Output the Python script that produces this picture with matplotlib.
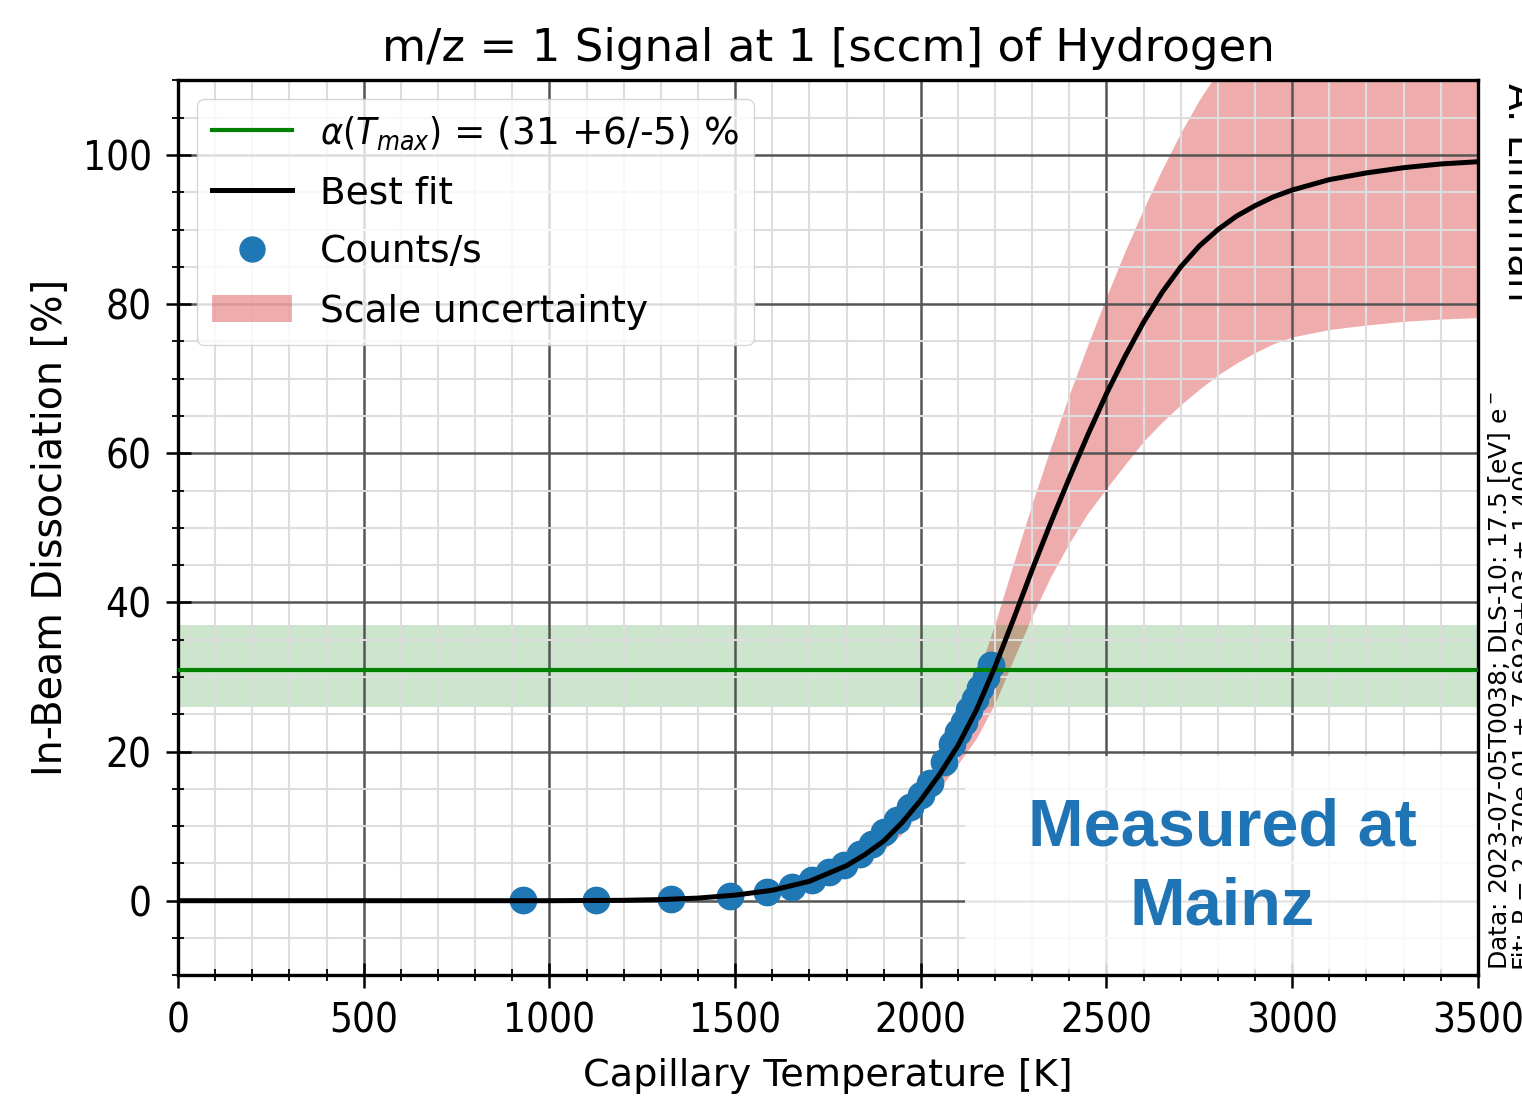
#!/usr/bin/env python3
"""
H2 in-beam dissociation vs capillary temperature (m/z = 1 signal).
"""

import matplotlib
matplotlib.use("Agg")
import matplotlib.pyplot as plt
from matplotlib.lines import Line2D
from matplotlib.patches import Patch, Rectangle
from matplotlib.ticker import MultipleLocator

# ── Data ──────────────────────────────────────────────────────────────────────

# best fit + scale-uncertainty band, sampled along temperature [K]
fit_T = [0, 500, 1000, 1200, 1300, 1400, 1500, 1600, 1700, 1800,
         1850, 1900, 1950, 2000,
         2050, 2100, 2150, 2200, 2250, 2300, 2350, 2400, 2450, 2500,
         2550, 2600, 2650, 2700, 2750, 2800, 2850, 2900, 2950, 3000,
         3100, 3200, 3300, 3400, 3500]
fit_best = [0.0, 0.0, 0.0, 0.05, 0.15, 0.35, 0.75, 1.4, 2.6, 4.7,
            6.2, 8.0, 10.5, 13.5,
            16.9, 20.8, 25.6, 31.4, 37.8, 44.4, 50.7, 56.7, 62.5, 68.0,
            73.0, 77.6, 81.6, 85.0, 87.8, 90.0, 91.8, 93.2, 94.4, 95.3,
            96.7, 97.6, 98.3, 98.8, 99.1]
fit_upper = [0.0, 0.0, 0.0, 0.06, 0.18, 0.4, 0.85, 1.6, 3.0, 5.4,
             7.2, 9.2, 11.8, 15.0,
             18.9, 23.6, 29.8, 37.2, 45.3, 53.3, 60.8, 67.9, 74.6, 81.0,
             87.1, 92.8, 98.1, 103.0, 107.4, 111.2, 114.3, 116.8, 118.7, 120.2,
             122.0, 123.0, 124.0, 124.5, 125.0]
fit_lower = [0.0, 0.0, 0.0, 0.04, 0.12, 0.3, 0.65, 1.2, 2.2, 4.0,
             5.3, 6.8, 9.0, 12.0,
             15.0, 18.3, 21.8, 26.5, 32.4, 38.2, 43.5, 48.0, 52.0, 55.3,
             58.5, 61.6, 64.2, 66.5, 68.6, 70.5, 72.1, 73.5, 74.7, 75.6,
             76.6, 77.2, 77.7, 78.0, 78.2]

# measured points (counts/s converted to dissociation)
meas_T = [930, 1125, 1328, 1486, 1587, 1653, 1707, 1752, 1792, 1837,
          1869, 1900, 1936, 1972, 2000, 2026, 2062, 2085, 2100, 2115,
          2130, 2145, 2160, 2175, 2190]
meas_alpha = [0.1, 0.1, 0.2, 0.6, 1.1, 1.9, 2.8, 3.9, 4.8, 6.3,
              7.6, 9.2, 10.8, 12.6, 14.2, 15.8, 18.6, 21.0, 22.6, 24.0,
              25.6, 27.0, 28.5, 30.0, 31.6]

alpha_max = 31.0
alpha_up = 6.0
alpha_dn = 5.0

GREEN = "#008000"
RED   = "#d62728"
BLUE  = "#1f77b4"

plt.rcParams["font.family"] = ["DejaVu Sans"]
plt.rcParams["font.stretch"] = "condensed"

fig = plt.figure(figsize=(15.22, 11.02), dpi=100)
ax = fig.add_axes([0.117, 0.115, 0.854, 0.812])

# ── bands ──
ax.fill_between(fit_T, fit_lower, fit_upper, color=RED, alpha=0.38,
                linewidth=0, zorder=1)
ax.axhspan(alpha_max - alpha_dn, alpha_max + alpha_up, color=GREEN,
           alpha=0.2, linewidth=0, zorder=1.1)

# ── points and lines ──
ax.scatter(meas_T, meas_alpha, s=360, color=BLUE, zorder=3)
ax.axhline(alpha_max, color=GREEN, linewidth=3, zorder=4)
ax.plot(fit_T, fit_best, color="black", linewidth=3.6, zorder=5)

# white overlay box with annotation
ax.add_patch(Rectangle((2120, -10), 1380, 29.4, facecolor="white",
                       edgecolor="none", alpha=0.85, zorder=1.7))
ax.text(2811, 4.4, "Measured at\nMainz", ha="center", va="center",
        fontsize=48, fontweight="bold", color="#1f74b5", linespacing=1.35,
        family="Liberation Sans", fontstretch="normal", zorder=6)

# ── axes ──
ax.set_xlim(0, 3500)
ax.set_ylim(-10, 110)
ax.xaxis.set_major_locator(MultipleLocator(500))
ax.xaxis.set_minor_locator(MultipleLocator(100))
ax.yaxis.set_major_locator(MultipleLocator(20))
ax.yaxis.set_minor_locator(MultipleLocator(5))
ax.grid(which="major", color="#555555", linewidth=1.8)
ax.grid(which="minor", color="#dddddd", linewidth=1.5)
ax.tick_params(which="major", direction="inout", length=18, width=1.8,
               labelsize=29, pad=10)
ax.tick_params(which="minor", direction="inout", length=8, width=1.3)
for sp in ax.spines.values():
    sp.set_linewidth(2.4)

ax.set_xlabel("Capillary Temperature [K]", fontsize=27.5,
              fontstretch="normal", labelpad=12)
ax.set_ylabel("In-Beam Dissociation [%]", fontsize=28.5,
              fontstretch="normal", labelpad=8)
ax.set_title("m/z = 1 Signal at 1 [sccm] of Hydrogen", fontsize=32.5,
             fontstretch="normal", pad=14)

handles = [
    Line2D([], [], color=GREEN, linewidth=3),
    Line2D([], [], color="black", linewidth=3.6),
    Line2D([], [], linestyle="none", marker="o", markersize=18,
           color=BLUE),
    Patch(facecolor=RED, alpha=0.38, linewidth=0),
]
labels = [
    r"$\alpha(T_{max})$ = (31 +6/-5) %",
    "Best fit",
    "Counts/s",
    "Scale uncertainty",
]
ax.legend(handles, labels, loc="upper left",
          prop={"size": 27, "stretch": "normal"},
          borderaxespad=0.5, handlelength=2.13, handletextpad=0.75,
          labelspacing=0.62)

# side annotations (partly cut by the figure edge)
fig.text(0.9855, 0.12, "Data: 2023-07-05T0038; DLS-10: 17.5 [eV] e$^-$",
         rotation=90, ha="center", va="bottom", fontsize=18,
         fontstretch="normal")
fig.text(0.9935, 0.12, "Fit: P = 2.370e-01 ± 7.692e+03 ± 1.400",
         rotation=90, ha="left", va="bottom", fontsize=18,
         fontstretch="normal")
fig.text(0.986, 0.925, "A. Lindman", rotation=-90, ha="left", va="top",
         fontsize=28, fontstretch="normal")

fig.savefig("out.png", dpi=100)
